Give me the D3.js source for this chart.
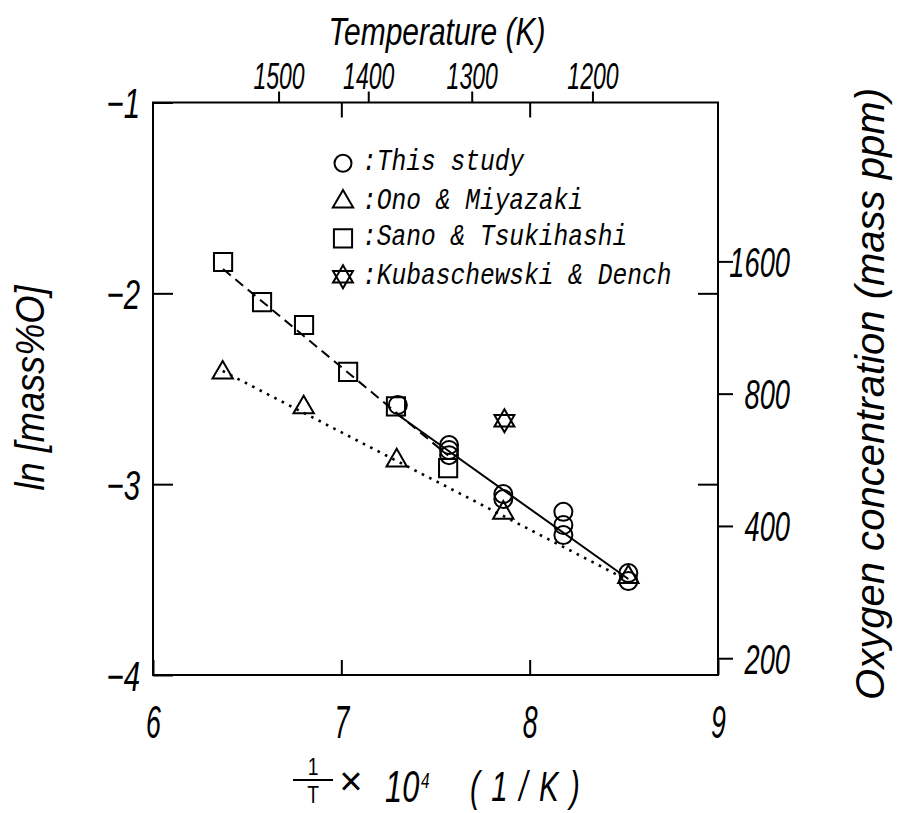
<!DOCTYPE html>
<html><head><meta charset="utf-8">
<script src="https://cdn.jsdelivr.net/npm/d3@7/dist/d3.min.js"></script>
<style>
html,body{margin:0;padding:0;background:#fff;}
svg{display:block;}
</style></head>
<body>
<svg id="chart" width="897" height="813"></svg>
<script>
// ---------------- data ----------------
const thisStudyX = [7.300, 7.572, 7.572, 7.572, 7.860, 7.860, 8.179, 8.179, 8.179, 8.524, 8.524];
const thisStudyY = [-2.585, -2.795, -2.821, -2.848, -3.052, -3.078, -3.145, -3.214, -3.267, -3.466, -3.508];
const onoX = [6.370, 6.800, 7.294, 7.860, 8.524];
const onoY = [-2.416, -2.598, -2.876, -3.150, -3.487];
const sanoX = [6.372, 6.579, 6.802, 7.036, 7.290, 7.567];
const sanoY = [-1.836, -2.046, -2.166, -2.412, -2.592, -2.916];
const kubX = [7.866];
const kubY = [-2.668];
// fitted lines
const thisFitX = [7.300, 8.524];
const thisFitY = [-2.636, -3.497];
const onoFitX = [6.370, 8.524];
const onoFitY = [-2.407, -3.505];
const sanoFitX = [6.372, 7.567];
const sanoFitY = [-1.873, -2.850];
// ticks / labels
const xTicks = [6, 7, 8, 9];
const yTicks = [-1, -2, -3, -4];
const tempTicks = [1500, 1400, 1300, 1200];
const ppmTicks = [1600, 800, 400, 200];
const legendLabels = ["This study", "Ono & Miyazaki", "Sano & Tsukihashi", "Kubaschewski & Dench"];

// ---------------- setup ----------------
const NUM_FONT = "'Liberation Sans',Arial,sans-serif";
const MONO_FONT = "'Liberation Mono','DejaVu Sans Mono',monospace";
const svg = d3.select("#chart");
const x = d3.scaleLinear().domain([6, 9]).range([153, 718]);
const y = d3.scaleLinear().domain([-1, -4]).range([102.5, 675]);

function styleAxis(g) {
  g.select(".domain").remove();
  g.selectAll(".tick line").attr("stroke", "#000").attr("stroke-width", 2);
}
function styleLabels(g, tr, size, anchor) {
  g.selectAll(".tick text")
    .attr("x", null).attr("y", null).attr("dy", null)
    .attr("transform", tr)
    .attr("text-anchor", anchor)
    .attr("fill", "#000")
    .style("font-family", NUM_FONT)
    .style("font-style", "italic")
    .style("font-size", size + "px");
}

// bottom axis
const gb = svg.append("g").attr("transform", `translate(0,${y(-4)})`)
  .call(d3.axisBottom(x).tickValues(xTicks).tickSize(-15).tickSizeOuter(0).tickFormat(d3.format("d")));
styleAxis(gb);
styleLabels(gb, "translate(0,63) scale(0.58,1)", 46, "middle");

// top inward ticks
const gt2 = svg.append("g").attr("transform", `translate(0,${y(-1)})`)
  .call(d3.axisTop(x).tickValues([7, 8]).tickSize(-15).tickSizeOuter(0).tickFormat(""));
styleAxis(gt2);

// top temperature axis
const gt = svg.append("g").attr("transform", `translate(0,${y(-1)})`)
  .call(d3.axisTop(x).tickValues(tempTicks.map(t => 1e4 / t)).tickSize(11).tickSizeOuter(0)
    .tickFormat((d, i) => String(tempTicks[i])));
styleAxis(gt);
styleLabels(gt, "translate(0,-14) scale(0.64,1)", 36, "middle");

// left axis
const gl = svg.append("g").attr("transform", `translate(${x(6)},0)`)
  .call(d3.axisLeft(y).tickValues(yTicks).tickSize(-20).tickSizeOuter(0)
    .tickFormat(d => "\u2212" + Math.abs(d)));
styleAxis(gl);
styleLabels(gl, "translate(-13,15) scale(0.7,1)", 42, "end");

// right inward ticks
const gr2 = svg.append("g").attr("transform", `translate(${x(9)},0)`)
  .call(d3.axisRight(y).tickValues([-2, -3]).tickSize(-20).tickSizeOuter(0).tickFormat(""));
styleAxis(gr2);

// right ppm axis
const gr = svg.append("g").attr("transform", `translate(${x(9)},0)`)
  .call(d3.axisRight(y).tickValues(ppmTicks.map(p => Math.log(p / 1e4))).tickSize(15).tickSizeOuter(0)
    .tickFormat((d, i) => String(ppmTicks[i])));
styleAxis(gr);
styleLabels(gr, "translate(72,15) scale(0.65,1)", 42, "end");

// frame
svg.append("rect")
  .attr("x", x(6)).attr("y", y(-1))
  .attr("width", x(9) - x(6)).attr("height", y(-4) - y(-1))
  .attr("fill", "none").attr("stroke", "#000").attr("stroke-width", 2);

// ---------------- fit lines ----------------
const line = d3.line().x(d => x(d[0])).y(d => y(d[1]));
svg.append("path").datum(d3.zip(sanoFitX, sanoFitY)).attr("d", line)
  .attr("fill", "none").attr("stroke", "#000").attr("stroke-width", 2)
  .attr("stroke-dasharray", "10,6");
svg.append("path").datum(d3.zip(onoFitX, onoFitY)).attr("d", line)
  .attr("fill", "none").attr("stroke", "#000").attr("stroke-width", 2.6)
  .attr("stroke-dasharray", "2.6,5.7");
svg.append("path").datum(d3.zip(thisFitX, thisFitY)).attr("d", line)
  .attr("fill", "none").attr("stroke", "#000").attr("stroke-width", 2);

// ---------------- markers ----------------
function hexagram(R) {
  const p = d3.path();
  [-90, 90].forEach(start => {
    for (let k = 0; k < 3; k++) {
      const a = (start + k * 120) * Math.PI / 180;
      const px = R * Math.cos(a), py = R * Math.sin(a);
      if (k === 0) p.moveTo(px, py); else p.lineTo(px, py);
    }
    p.closePath();
  });
  return p.toString();
}
const triPath = d3.symbol().type(d3.symbolTriangle).size(180)();
const sqPath = d3.symbol().type(d3.symbolSquare).size(330)();
const starPath = hexagram(11.5);

function drawMarkers(xs, ys, pathStr, isCircle) {
  const g = svg.append("g");
  const sel = g.selectAll("g").data(d3.zip(xs, ys)).join("g")
    .attr("transform", d => `translate(${x(d[0])},${y(d[1])})`);
  if (isCircle) {
    sel.append("circle").attr("r", 9).attr("fill", "none").attr("stroke", "#000").attr("stroke-width", 2);
  } else {
    sel.append("path").attr("d", pathStr).attr("fill", "none").attr("stroke", "#000")
      .attr("stroke-width", 2).attr("stroke-linejoin", "miter");
  }
}
drawMarkers(sanoX, sanoY, sqPath, false);
drawMarkers(onoX, onoY, triPath, false);
drawMarkers(kubX, kubY, starPath, false);
drawMarkers(thisStudyX, thisStudyY, null, true);

// ---------------- legend ----------------
const legendRowsY = [163.3, 201.7, 238.3, 276.7];
const legendSym = ["circle", triPath, sqPath, starPath];
const lg = svg.append("g");
legendLabels.forEach((lab, i) => {
  const cy = legendRowsY[i];
  if (legendSym[i] === "circle") {
    lg.append("circle").attr("cx", 343).attr("cy", cy).attr("r", 8.5)
      .attr("fill", "none").attr("stroke", "#000").attr("stroke-width", 2);
  } else {
    lg.append("path").attr("d", legendSym[i]).attr("transform", `translate(343,${cy})`)
      .attr("fill", "none").attr("stroke", "#000").attr("stroke-width", 2);
  }
  lg.append("text").attr("transform", `translate(362,${cy + 7}) scale(0.9,1.1)`)
    .style("font-family", MONO_FONT).style("font-style", "italic")
    .style("font-size", "27.3px").attr("fill", "#000")
    .text(":" + lab);
});

// ---------------- titles ----------------
function title(txt, xx, yy, size, len, rot) {
  const t = svg.append("text")
    .attr("transform", `translate(${xx},${yy})` + (rot ? ` rotate(${rot})` : ""))
    .attr("text-anchor", "middle")
    .style("font-family", NUM_FONT).style("font-style", "italic")
    .style("font-size", size + "px").attr("fill", "#000")
    .text(txt);
  if (len) t.attr("textLength", len).attr("lengthAdjust", "spacingAndGlyphs");
  return t;
}
title("Temperature (K)", 437, 45, 39, 217, 0);
title("ln [mass%O]", 44, 388, 40, 205, -90);
title("Oxygen concentration (mass ppm)", 884, 394, 40, 612, -90);

// bottom axis title: 1/T x 10^4 (1/K)
const bt = svg.append("g");
bt.append("text").attr("transform", "translate(313,775) scale(0.8,1)").attr("text-anchor", "middle")
  .style("font-family", NUM_FONT).style("font-size", "24px").text("1");
bt.append("line").attr("x1", 293).attr("x2", 333).attr("y1", 780).attr("y2", 780)
  .attr("stroke", "#000").attr("stroke-width", 2);
bt.append("text").attr("transform", "translate(313,803) scale(0.8,1)").attr("text-anchor", "middle")
  .style("font-family", NUM_FONT).style("font-size", "24px").text("T");
bt.append("text").attr("x", 351).attr("y", 795).attr("text-anchor", "middle")
  .style("font-family", NUM_FONT).style("font-size", "40px").text("\u00d7");
bt.append("text").attr("transform", "translate(385,802) scale(0.7,1)")
  .style("font-family", NUM_FONT).style("font-style", "italic").style("font-size", "44px").text("10");
bt.append("text").attr("transform", "translate(421,788) scale(0.7,1)")
  .style("font-family", NUM_FONT).style("font-style", "italic").style("font-size", "22px").text("4");
bt.append("text").attr("transform", "translate(470,801) scale(0.7,1)")
  .attr("textLength", 157).attr("lengthAdjust", "spacing")
  .style("font-family", NUM_FONT).style("font-style", "italic").style("font-size", "42px").text("(1/K)");
</script>
</body></html>
